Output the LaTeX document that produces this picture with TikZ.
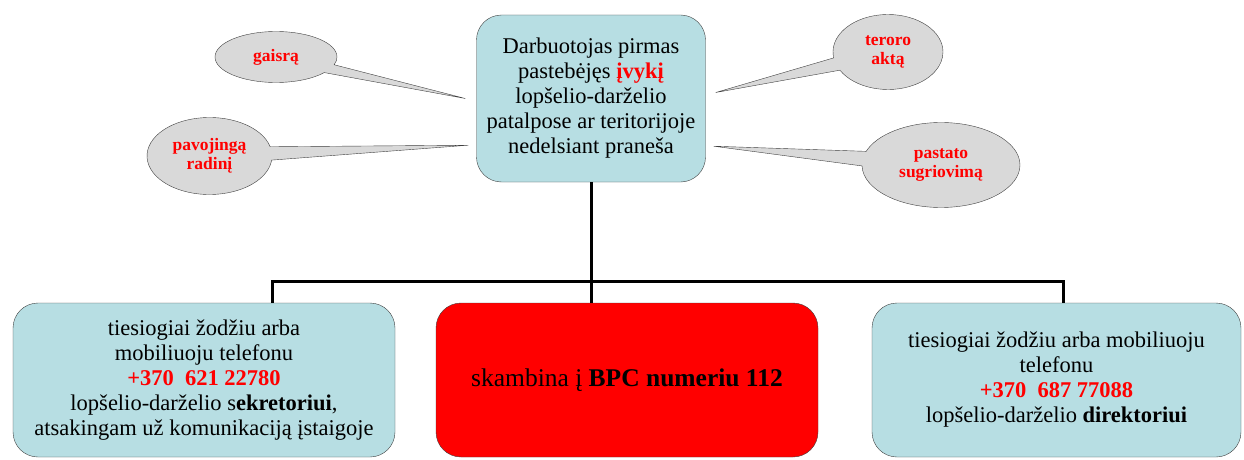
\documentclass[tikz,border=0pt]{standalone}
\usepackage{fontspec}
\setmainfont{Liberation Serif}
\usetikzlibrary{shapes.callouts, calc}

\definecolor{boxblue}{RGB}{183,222,227}
\definecolor{bubblegray}{RGB}{217,217,217}
\definecolor{rimgray}{RGB}{64,64,64}

\begin{document}
\begin{tikzpicture}[x = 1pt, y = 1pt, % one unit is one pixel
        line join = miter % square corners on the wires
    ]

    \tikzstyle{box}=[draw = rimgray, fill = boxblue, rounded corners = 25pt,
    align = center, inner sep = 2pt, minimum height = 154pt,
    font = \fontsize{22.5}{25}\selectfont]
    \tikzstyle{bubble}=[ellipse callout, draw = rimgray, fill = bubblegray,
    align = center, inner sep = 1pt, callout pointer arc = 20, text = red,
    font = \fontsize{17.5}{19}\selectfont\bfseries]
    \tikzstyle{wire}=[line width = 3pt, black]

    \useasboundingbox (0,0) rectangle (1244,459);

    % central message
    \node[box, minimum width = 229pt, minimum height = 167pt] (main) at
    (591,360.5) {Darbuotojas pirmas\\ pastebėjęs {\color{red}\bfseries
    įvykį}\\ lopšelio-darželio\\ patalpose ar teritorijoje\\ nedelsiant
    praneša};

    % pointer tips of the bubbles
    \coordinate (tipfire) at ($(main.west)+(-11,0)$);
    \coordinate (tipfind) at ($(main.south west)+(-8,37)$);
    \coordinate (tipterror) at ($(main.east)+(10,6)$);
    \coordinate (tipcollapse) at ($(main.south east)+(8,36)$);

    \node[bubble, minimum width = 122pt, minimum height = 51pt,
    callout absolute pointer = {(tipfire)}] (fire) at (276,402) {gaisrą};
    \node[bubble, minimum width = 125pt, minimum height = 77pt,
    callout absolute pointer = {(tipfind)}] (find) at (209.5,303)
    {pavojingą\\ radinį};
    \node[bubble, minimum width = 110pt, minimum height = 75pt,
    callout absolute pointer = {(tipterror)}] (terror) at (888,407)
    {teroro\\ aktą};
    \node[bubble, minimum width = 158pt, minimum height = 85pt,
    callout absolute pointer = {(tipcollapse)}] (collapse) at (941,294)
    {pastato\\ sugriovimą};

    % the three ways to report
    \node[box, minimum width = 382pt] (secretary) at (204,79)
    {tiesiogiai žodžiu arba\\ mobiliuoju telefonu\\ {\color{red}\bfseries
    +370~~621 22780}\\ lopšelio-darželio s\textbf{ekretoriui},\\ atsakingam
    už komunikaciją įstaigoje};
    \node[box, fill = red, minimum width = 382pt,
    font = \fontsize{25.5}{28}\selectfont] (call) at (627,79) {skambina į
    \textbf{BPC numeriu 112}};
    \node[box, minimum width = 369pt] (director) at (1056.5,79)
    {tiesiogiai žodžiu arba mobiliuoju\\ telefonu\\ {\color{red}\bfseries
    +370~~687 77088}\\ lopšelio-darželio \textbf{direktoriui}};

    \coordinate (busL) at (272,178);
    \coordinate (busR) at (1063,178);

    \draw[wire] (busL |- secretary.north) -- (busL) -- (busR) -- (busR |-
    director.north); \draw[wire] (main.south) -- (main.south |- call.north);
\end{tikzpicture}
\end{document}
